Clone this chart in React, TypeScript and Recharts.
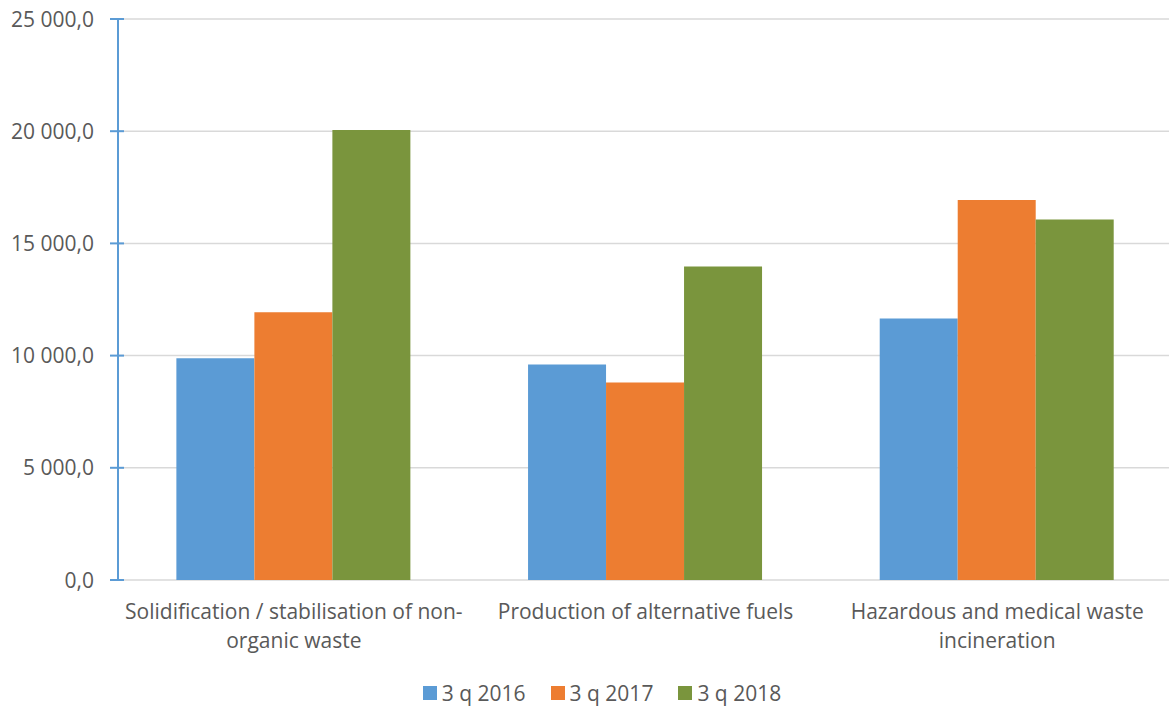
import { BarChart, Bar, XAxis, YAxis, CartesianGrid, Legend } from 'recharts';

const categories = [
  'Solidification / stabilisation of non-\norganic waste',
  'Production of alternative fuels',
  'Hazardous and medical waste\nincineration',
];
const q2016 = [9880, 9600, 11650];
const q2017 = [11930, 8800, 16930];
const q2018 = [20050, 13975, 16070];
const yTicks = [0, 5000, 10000, 15000, 20000, 25000];

const COLORS = ['#5b9bd5', '#ed7d31', '#7a953d'];
const FONT = '"Open Sans", sans-serif';
const TEXT = '#595959';

const data = categories.map((name, i) => ({
  name,
  '3 q 2016': q2016[i],
  '3 q 2017': q2017[i],
  '3 q 2018': q2018[i],
}));

const formatValue = (v: number) => {
  const s = Math.round(v).toString().replace(/\B(?=(\d{3})+(?!\d))/g, ' ');
  return `${s},0`;
};

const YTick = (props: any) => {
  const { x, y, payload } = props;
  const axisX = x + 24;
  return (
    <g>
      <line x1={axisX - 8} x2={axisX + 6} y1={y} y2={y} stroke="#5b9bd5" strokeWidth={2} />
      <text x={x} y={y} dy="0.36em" textAnchor="end" fill={TEXT} fontSize={21} fontFamily={FONT}>
        {formatValue(payload.value)}
      </text>
    </g>
  );
};

const XTick = (props: any) => {
  const { x, y, payload } = props;
  const lines = String(payload.value).split('\n');
  return (
    <text x={x} y={y} textAnchor="middle" fill={TEXT} fontSize={21} fontFamily={FONT}>
      {lines.map((line, i) => (
        <tspan key={i} x={x} y={y + 39 + i * 29}>
          {line}
        </tspan>
      ))}
    </text>
  );
};

const LegendContent = (props: any) => {
  const { payload } = props;
  return (
    <div
      style={{
        display: 'flex',
        justifyContent: 'center',
        alignItems: 'center',
        height: 30,
        paddingLeft: 31,
        paddingTop: 4,
        boxSizing: 'border-box',
        fontFamily: FONT,
        fontSize: 21,
        color: TEXT,
      }}
    >
      {(payload || []).map((entry: any, i: number) => (
        <div key={i} style={{ display: 'flex', alignItems: 'center', marginRight: i < 2 ? 25 : 0 }}>
          <span style={{ width: 14, height: 14, background: entry.color, marginRight: 5, display: 'inline-block' }} />
          <span>{entry.value}</span>
        </div>
      ))}
    </div>
  );
};

const App = () => {
  return (
    <div style={{ position: 'absolute', left: 0, top: 0, width: 1169, height: 706, overflow: 'hidden', background: '#fff' }}>
      <BarChart
        width={1173}
        height={706}
        data={data}
        margin={{ top: 19, right: 0, left: 0, bottom: 0 }}
        barCategoryGap="16.6%"
        barGap={0}
      >
        <CartesianGrid vertical={false} stroke="#d9d9d9" strokeWidth={1.5} />
        <XAxis dataKey="name" axisLine={false} tickLine={false} tickSize={0} tickMargin={0} height={96} tick={<XTick />} interval={0} />
        <YAxis
          domain={[0, 25000]}
          ticks={yTicks}
          width={118}
          axisLine={{ stroke: '#5b9bd5', strokeWidth: 2 }}
          tickLine={false}
          tickSize={0}
          tickMargin={24}
          tick={<YTick />}
          interval={0}
        />
        <Legend verticalAlign="bottom" height={30} content={<LegendContent />} />
        <Bar dataKey="3 q 2016" fill={COLORS[0]} isAnimationActive={false} />
        <Bar dataKey="3 q 2017" fill={COLORS[1]} isAnimationActive={false} />
        <Bar dataKey="3 q 2018" fill={COLORS[2]} isAnimationActive={false} />
      </BarChart>
    </div>
  );
};

export default App;
